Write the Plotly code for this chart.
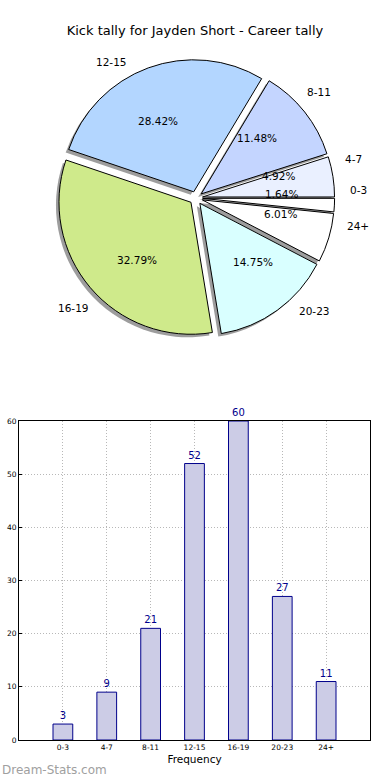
import numpy as np
import plotly.graph_objects as go

# ---------------- data ----------------
categories = ["0-3", "4-7", "8-11", "12-15", "16-19", "20-23", "24+"]
kicks = [3, 9, 21, 52, 60, 27, 11]
pie_colors = ["#ffffff", "#eaf0ff", "#c4d5ff", "#b3d6ff", "#cfea8b", "#d9ffff", "#ffffff"]
title_text = "Kick tally for Jayden Short - Career tally"
x_title = "Frequency"
watermark = "Dream-Stats.com"

# ---------------- geometry (pixels) ----------------
W, H = 390, 780
cx, cy, R = 196, 198, 132
PULL = 0.05
SH = 3  # shadow offset


def pie_domain(px, py):
    half = R * (1 + PULL)
    return dict(x=[(px - half) / W, (px + half) / W],
                y=[1 - (py + half) / H, 1 - (py - half) / H])


fig = go.Figure()

# shadow pie (down-left, behind)
fig.add_trace(go.Pie(
    values=kicks, labels=categories, sort=False, direction="counterclockwise",
    rotation=90, pull=[PULL] * len(kicks),
    marker=dict(colors=["rgba(60,60,60,0.5)"] * len(kicks), line=dict(width=0)),
    textinfo="none", hoverinfo="skip", domain=pie_domain(cx - SH, cy + SH),
    showlegend=False,
))

# main pie
fig.add_trace(go.Pie(
    values=kicks, labels=categories, sort=False, direction="counterclockwise",
    rotation=90, pull=[PULL] * len(kicks),
    marker=dict(colors=pie_colors, line=dict(color="black", width=1)),
    textinfo="none", hoverinfo="label+value", domain=pie_domain(cx, cy),
    showlegend=False,
))

# labels and percentages, placed like matplotlib (from the data's angles)
vals = np.array(kicks, dtype=float)
fr = vals / vals.sum()
starts = np.concatenate([[0], np.cumsum(fr)[:-1]])
mids = 2 * np.pi * (starts + fr / 2)
annotations = []
for cat, f, th in zip(categories, fr, mids):
    lx = cx + (1.1 + PULL) * R * np.cos(th)
    ly = cy - (1.1 + PULL) * R * np.sin(th)
    annotations.append(dict(
        x=lx / W, y=1 - ly / H, xref="paper", yref="paper", text=cat,
        showarrow=False, xanchor="left" if np.cos(th) > 0 else "right",
        yanchor="middle", font=dict(size=10.5, color="black")))
    px_ = cx + (0.6 + PULL) * R * np.cos(th)
    py_ = cy - (0.6 + PULL) * R * np.sin(th)
    annotations.append(dict(
        x=px_ / W, y=1 - py_ / H, xref="paper", yref="paper",
        text=f"{100 * f:.2f}%", showarrow=False, xanchor="center",
        yanchor="middle", font=dict(size=10.5, color="black")))

annotations.append(dict(
    x=0, y=1 - 770 / H, xref="paper", yref="paper", text=watermark,
    showarrow=False, xanchor="left", yanchor="middle",
    font=dict(size=12, color="#a0a0a0")))

# bar chart
fig.add_trace(go.Bar(
    x=categories, y=kicks, width=0.45,
    marker=dict(color="#ccccE6", line=dict(color="#00008b", width=1)),
    text=kicks, texttemplate="%{y}", textposition="outside",
    textfont=dict(size=10, color="#00008b"), cliponaxis=False,
    showlegend=False, xaxis="x", yaxis="y",
))

fig.update_layout(
    width=W, height=H,
    margin=dict(l=0, r=0, t=0, b=0, autoexpand=False),
    paper_bgcolor="white", plot_bgcolor="white",
    font=dict(family="DejaVu Sans", color="black"),
    title=dict(text=title_text, x=0.5, xanchor="center", y=1 - 30 / H,
               yanchor="middle", yref="container",
               font=dict(size=13, color="black")),
    annotations=annotations,
    xaxis=dict(
        domain=[19 / W, 370 / W], type="category", range=[-1, 7],
        automargin=False,
        showline=True, mirror=True, linecolor="black", linewidth=1,
        showgrid=True, gridcolor="#b8b8b8", griddash="1px,2px", gridwidth=1,
        ticks="", tickfont=dict(size=7.5), zeroline=False,
        title=dict(text=x_title, font=dict(size=10.5), standoff=4),
        fixedrange=True,
    ),
    yaxis=dict(
        domain=[1 - 740 / H, 1 - 421 / H], range=[0, 60], dtick=10,
        automargin=False,
        showline=True, mirror=True, linecolor="black", linewidth=1,
        showgrid=True, gridcolor="#b8b8b8", griddash="1px,2px", gridwidth=1,
        ticks="inside", ticklen=3, tickcolor="black",
        tickfont=dict(size=7.5), zeroline=False, fixedrange=True,
    ),
    bargap=0.55,
)

post = (
    "var de=document.documentElement,b=document.body;"
    "de.style.margin='0';de.style.padding='0';de.style.height='780px';de.style.overflow='hidden';"
    "b.style.margin='0';b.style.padding='0';b.style.height='780px';b.style.overflow='hidden';"
    "var d=document.getElementsByClassName('plotly-graph-div');"
    "for(var i=0;i<d.length;i++){d[i].style.display='block';d[i].parentNode.style.height='780px';"
    "d[i].parentNode.style.overflow='hidden';}"
)
fig.write_html("out.html", config={"displayModeBar": False}, post_script=post)
